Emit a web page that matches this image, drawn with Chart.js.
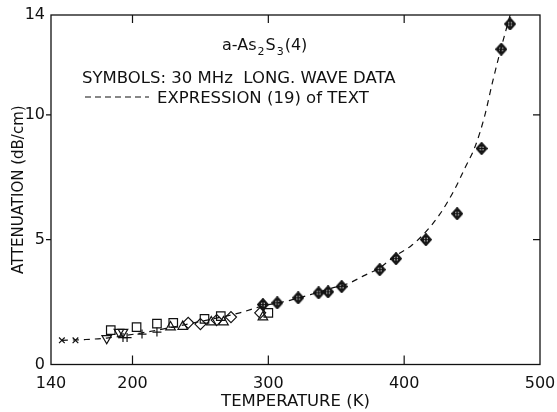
<!DOCTYPE html>
<html lang="en">
<head>
  <meta charset="UTF-8">
  <title>a-As2S3(4) attenuation vs temperature</title>
  <script src="https://cdn.jsdelivr.net/npm/chart.js"></script>
  <style>
    html, body { margin: 0; padding: 0; background: #fff; }
    canvas { display: block; }
  </style>
</head>
<body>
  <canvas id="chart" width="557" height="412"></canvas>

  <script>
    // dashed curve, expression (19) of text
    const curveT = [148, 165, 181, 205, 230, 255, 279, 295, 316, 331, 345, 360, 370, 382, 392, 405, 414, 426, 437, 445, 452, 459, 465, 471, 478];
    const curveA = [0.97, 1.0, 1.06, 1.25, 1.5, 1.78, 2.07, 2.33, 2.57, 2.8, 3.03, 3.27, 3.55, 3.87, 4.3, 4.75, 5.2, 6.0, 7.0, 7.9, 8.7, 9.9, 11.3, 12.6, 14.0];

    // 30 MHz data, one array pair per symbol
    const crossT = [148, 158];
    const crossA = [0.97, 0.97];
    const downTriT = [181, 190, 193];
    const downTriA = [1.05, 1.3, 1.3];
    const squareT = [184, 203, 218, 230, 253, 265, 300];
    const squareA = [1.38, 1.5, 1.64, 1.67, 1.83, 1.94, 2.07];
    const plusT = [193, 196, 207, 218];
    const plusA = [1.08, 1.08, 1.22, 1.3];
    const upTriT = [228, 237, 258, 267, 296];
    const upTriA = [1.5, 1.52, 1.7, 1.7, 1.9];
    const diamondT = [241, 250, 262, 272.5, 294];
    const diamondA = [1.67, 1.62, 1.78, 1.9, 2.07];
    const filledT = [296, 306.6, 322, 337, 344, 354, 382, 394, 416, 439, 457, 471.5, 478];
    const filledA = [2.4, 2.47, 2.67, 2.87, 2.91, 3.12, 3.8, 4.24, 5.0, 6.04, 8.65, 12.63, 13.64];

    const xTicks = [140, 200, 300, 400, 500];
    const yTicks = [0, 5, 10, 14];

    const pts = (t, a) => t.map((v, i) => ({ x: v, y: a[i] }));
    const ink = '#111';
    const fontFam = '"DejaVu Sans", sans-serif';

    // diamond with crossed circle symbol
    function makeFilled() {
      const c = document.createElement('canvas');
      c.width = 12; c.height = 13;
      const g = c.getContext('2d');
      g.strokeStyle = ink;
      g.lineWidth = 1.6;
      g.beginPath();
      g.moveTo(6, 0.8); g.lineTo(11.2, 6.5); g.lineTo(6, 12.2); g.lineTo(0.8, 6.5); g.closePath();
      g.stroke();
      g.beginPath();
      g.arc(6, 6.5, 3.1, 0, Math.PI * 2);
      g.stroke();
      g.beginPath();
      g.moveTo(6, 1.5); g.lineTo(6, 11.5);
      g.moveTo(1.5, 6.5); g.lineTo(10.5, 6.5);
      g.stroke();
      return c;
    }

    const decorations = {
      id: 'decorations',
      afterDraw(chart) {
        const { ctx, chartArea: a, scales } = chart;
        ctx.save();
        ctx.strokeStyle = ink;
        ctx.lineWidth = 1.3;
        ctx.strokeRect(a.left, a.top, a.right - a.left, a.bottom - a.top);

        // tick marks: bottom/top/right inward, left outward
        ctx.lineWidth = 1.2;
        ctx.beginPath();
        [200, 300, 400].forEach(v => {
          const px = scales.x.getPixelForValue(v);
          ctx.moveTo(px, a.bottom); ctx.lineTo(px, a.bottom - 9);
          ctx.moveTo(px, a.top); ctx.lineTo(px, a.top + 8);
        });
        [5, 10].forEach(v => {
          const py = scales.y.getPixelForValue(v);
          ctx.moveTo(a.left, py); ctx.lineTo(a.left - 5, py);
          ctx.moveTo(a.right, py); ctx.lineTo(a.right - 7, py);
        });
        ctx.stroke();

        // annotation text
        ctx.fillStyle = ink;
        ctx.textBaseline = 'alphabetic';
        ctx.textAlign = 'left';
        let x = 222;
        const big = '16px ' + fontFam, small = '11px ' + fontFam;
        [['a-As', big, 0], ['2', small, 5], ['S', big, 0], ['3', small, 5], ['(4)', big, 0]].forEach(([s, f, dy]) => {
          ctx.font = f;
          ctx.fillText(s, x, 50 + dy);
          x += ctx.measureText(s).width + 1;
        });

        ctx.font = '16.5px ' + fontFam;
        ctx.fillText('SYMBOLS: 30 MHz  LONG. WAVE DATA', 82, 83);
        ctx.fillText('EXPRESSION (19) of TEXT', 157, 103);

        ctx.setLineDash([6, 4]);
        ctx.lineWidth = 1.2;
        ctx.beginPath();
        ctx.moveTo(85, 97); ctx.lineTo(149, 97);
        ctx.stroke();
        ctx.restore();
      }
    };

    const markerBase = {
      showLine: false,
      borderColor: ink,
      backgroundColor: 'rgba(0,0,0,0)',
      borderWidth: 1.2
    };

    new Chart(document.getElementById('chart').getContext('2d'), {
      type: 'scatter',
      data: {
        datasets: [
          {
            type: 'line',
            data: pts(curveT, curveA),
            borderColor: ink,
            borderWidth: 1.2,
            borderDash: [6, 5],
            pointRadius: 0,
            fill: false,
            cubicInterpolationMode: 'monotone'
          },
          { ...markerBase, data: pts(crossT, crossA), pointStyle: 'crossRot', pointRadius: 4 },
          { ...markerBase, data: pts(downTriT, downTriA), pointStyle: 'triangle', pointRotation: 180, pointRadius: 5.5 },
          { ...markerBase, data: pts(squareT, squareA), pointStyle: 'rect', pointRadius: 6 },
          { ...markerBase, data: pts(plusT, plusA), pointStyle: 'cross', pointRadius: 4.5 },
          { ...markerBase, data: pts(upTriT, upTriA), pointStyle: 'triangle', pointRadius: 5.5 },
          { ...markerBase, data: pts(diamondT, diamondA), pointStyle: 'rectRot', pointRadius: 5.5 },
          { ...markerBase, data: pts(filledT, filledA), pointStyle: makeFilled(), pointRadius: 6 }
        ]
      },
      options: {
        responsive: false,
        animation: false,
        devicePixelRatio: 1,
        layout: { padding: { left: 0, top: 15, right: 17, bottom: 0 } },
        plugins: { legend: { display: false }, tooltip: { enabled: false } },
        scales: {
          x: {
            type: 'linear',
            min: 140,
            max: 500,
            afterBuildTicks: s => { s.ticks = xTicks.map(v => ({ value: v })); },
            afterFit: s => { s.height = 47.5; s.paddingRight = 0; s.paddingLeft = 0; },
            grid: { display: false, drawTicks: false },
            border: { display: false },
            ticks: { color: ink, font: { family: fontFam, size: 16 }, padding: 10, maxRotation: 0 },
            title: { display: true, text: 'TEMPERATURE (K)', color: ink, font: { family: fontFam, size: 16.5 }, padding: { top: 0, bottom: 0 } }
          },
          y: {
            min: 0,
            max: 14,
            afterBuildTicks: s => { s.ticks = yTicks.map(v => ({ value: v })); },
            afterFit: s => { s.width = 51; s.paddingTop = 0; s.paddingBottom = 0; },
            grid: { display: false, drawTicks: false },
            border: { display: false },
            ticks: { color: ink, font: { family: fontFam, size: 16 }, padding: 6 },
            title: { display: true, text: 'ATTENUATION (dB/cm)', color: ink, font: { family: fontFam, size: 15 }, padding: { top: 10, bottom: 0 } }
          }
        }
      },
      plugins: [decorations]
    });
  </script>
</body>
</html>
